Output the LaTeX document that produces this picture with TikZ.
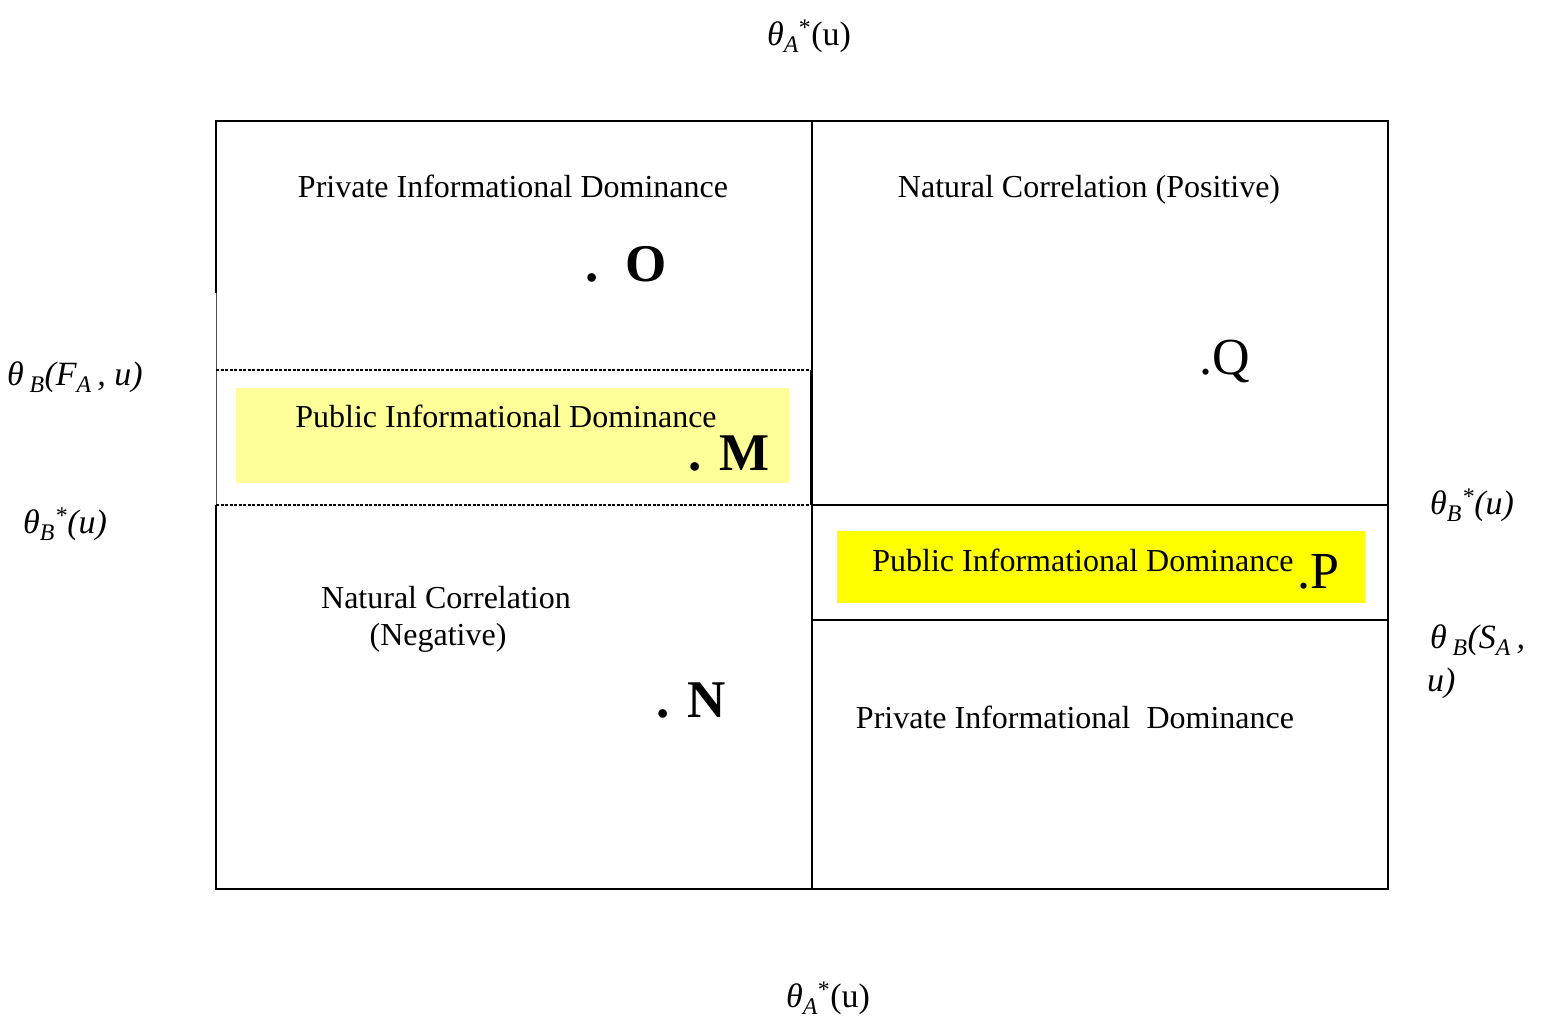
\documentclass[tikz,border=0pt]{standalone}
\usepackage{fontspec}
\setmainfont{Liberation Serif}
\begin{document}
\begin{tikzpicture}[x=1pt,y=-1pt,
  lbl/.style={inner sep=0pt,anchor=base,font=\fontsize{32}{37}\selectfont},
  big/.style={inner sep=0pt,anchor=base,font=\fontsize{53}{58}\selectfont\bfseries},
  bigr/.style={inner sep=0pt,anchor=base,font=\fontsize{52}{58}\selectfont},
  axl/.style={inner sep=0pt,font=\fontsize{34}{40}\selectfont,align=left},
  frame/.style={line width=1.8pt},
  dashln/.style={line width=2pt,dash pattern=on 3pt off 1.5pt}]
\useasboundingbox (0,0) rectangle (1543,1021);
\definecolor{lyel}{RGB}{255,255,153}
\definecolor{fyel}{RGB}{255,255,0}
% yellow boxes
\fill[lyel] (236,388) rectangle (789,483);
\fill[fyel] (837,531) rectangle (1365,603);
% frame
\coordinate (tl) at (216,121); \coordinate (tr) at (1388,121);
\coordinate (bl) at (216,889); \coordinate (br) at (1388,889);
\draw[frame] (216,293) -- (tl) -- (tr) -- (br) -- (bl) -- (216,505);
\draw[line width=0.6pt,black!70] (216,293) -- (216,505);
\draw[frame] (812,121) -- (812,889);
\draw[frame] (812,505) -- (1388,505);
\draw[frame] (812,620) -- (1388,620);
\draw[dashln] (216,370) -- (810,370);
\draw[dashln] (216,505) -- (810,505);
\draw[line width=0.6pt] (810,370) -- (810,505);
% region labels
\node[lbl] (pid1) at (513,197) {Private Informational Dominance};
\node[lbl] (ncp) at (1089,197) {Natural Correlation (Positive)};
\node[lbl] (pub1) at (506,427) {Public Informational Dominance};
\node[lbl] (ncn) at (446,608) {Natural Correlation};
\node[lbl] (ncn2) at (438,645) {(Negative)};
\node[lbl] (pub2) at (1083,571) {Public Informational Dominance};
\node[lbl] (pid2) at (1075,728) {Private Informational\ \ Dominance};
% points
\node[big] (O) at (626,281) {.\ \ O};
\node[big] (M) at (729,470) {. M};
\node[big] (N) at (691,717) {. N};
\node[bigr] (Q) at (1225,374) {.Q};
\node[bigr] (P) at (1318,588) {.P};
% axis labels
\node[axl,anchor=base] (ta1) at (809,45) {\textit{θ}\textsubscript{\textit{A}}\textsuperscript{*}(u)};
\node[axl,anchor=base] (ta2) at (828,1007) {\textit{θ}\textsubscript{\textit{A}}\textsuperscript{*}(u)};
\node[axl,anchor=base west] (tbf) at (7,385) {\itshape θ\,\textsubscript{B}(F\textsubscript{A}\,, u)};
\node[axl,anchor=base west] (tb1) at (23,533) {\itshape θ\textsubscript{B}\textsuperscript{*}(u)};
\node[axl,anchor=base west] (tb2) at (1430,514) {\itshape θ\textsubscript{B}\textsuperscript{*}(u)};
\node[axl,anchor=base west] (tbs) at (1430,648) {\itshape θ\,\textsubscript{B}(S\textsubscript{A}\,,};
\node[axl,anchor=base west] (tbs2) at (1427,691) {\itshape u)};
\end{tikzpicture}
\end{document}
